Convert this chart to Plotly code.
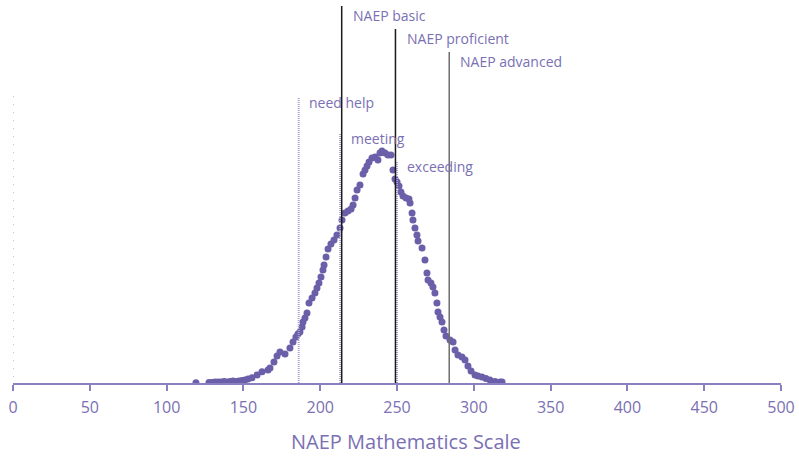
import plotly.graph_objects as go

# NAEP mathematics scale scores (x) and relative frequency (y, arbitrary units)
scores = [119.1, 127.6, 129.6, 131.5, 133.5, 135.4, 137.4, 139.3, 141.3, 143.2, 145.2, 147.1,
          149.1, 151.0, 153.0, 155.6, 158.9, 162.1, 166.0, 167.3, 169.9, 171.9, 173.8, 177.1,
          180.3, 182.3, 184.2, 185.5, 186.8, 188.2, 188.8, 190.1, 191.4, 192.7, 194.7, 196.6,
          197.9, 199.2, 200.5, 201.8, 202.5, 203.8, 205.1, 207.0, 209.0, 210.9, 212.9, 214.2,
          216.1, 218.1, 220.1, 221.4, 222.7, 224.0, 225.9, 227.9, 229.2, 230.5, 231.8, 233.7,
          235.7, 237.6, 238.9, 240.2, 242.2, 244.1, 246.1, 247.4, 248.7, 250.0, 251.3, 252.6,
          253.9, 255.9, 257.8, 258.5, 259.8, 260.4, 261.7, 263.0, 263.7, 266.3, 268.2, 269.5,
          270.2, 272.1, 273.4, 274.7, 276.0, 276.7, 278.0, 279.3, 280.6, 281.9, 284.5, 286.5,
          287.8, 289.7, 292.3, 294.3, 296.2, 298.2, 300.8, 302.7, 305.3, 307.9, 310.5, 313.8,
          317.1, 318.4]
freq = [0.3, 0.5, 0.5, 1, 1, 1, 1.5, 1, 1.5, 2, 1.5, 2,
        2.5, 3, 4, 5.3, 8, 11.3, 13, 15, 21, 27, 31, 29,
        35, 41, 46, 49, 51, 56, 61, 65, 70, 80, 85, 90,
        95, 100, 106, 113, 118, 126, 134, 139, 143, 148, 155, 163,
        170, 172, 174, 178, 185, 193, 198, 209, 213, 217, 221, 225,
        226, 223, 230, 232, 230, 228, 228, 213, 204, 201, 197, 191,
        187, 185, 184, 180, 170, 163, 155, 148, 142, 135, 123, 110,
        103, 100, 96, 90, 80, 71, 66, 61, 53, 47, 43, 41,
        33, 28, 26, 23, 17, 12, 8, 7, 6, 4.5, 3, 1.5,
        1, 1]

# Cut scores
naep_labels = ["NAEP basic", "NAEP proficient", "NAEP advanced"]
naep_cuts = [214, 249, 284]
naep_tops = [377, 354, 331]
naep_colors = ["#1a1a1a", "#1a1a1a", "#6e6e6e"]

state_labels = ["need help", "meeting", "exceeding"]
state_cuts = [186, 213, 250]
state_tops = [286, 250, 222]

x_ticks = [0, 50, 100, 150, 200, 250, 300, 350, 400, 450, 500]
x_title = "NAEP Mathematics Scale"

PURPLE = "#6a5fa8"
TEXT = "#7a70b3"
FONT = "Open Sans"

fig = go.Figure()
fig.add_trace(go.Scatter(x=scores, y=freq, mode="markers",
                         marker=dict(size=7, color=PURPLE), hoverinfo="x+y",
                         showlegend=False))

shapes = []
annotations = []
# dotted y axis line
shapes.append(dict(type="line", xref="x", yref="y", x0=0, x1=0, y0=6, y1=288,
                   line=dict(color="#8c84b8", width=1, dash="1px,7px")))
for lab, c, t in zip(state_labels, state_cuts, state_tops):
    shapes.append(dict(type="line", xref="x", yref="y", x0=c, x1=c, y0=0, y1=t,
                       line=dict(color="#aaa3d2", width=2, dash="1px,1px")))
    annotations.append(dict(x=c + 5.5, y=t - 5, xref="x", yref="y", text=lab,
                            showarrow=False, xanchor="left", yanchor="middle",
                            font=dict(family=FONT, size=14, color=TEXT)))
for lab, c, t, col in zip(naep_labels, naep_cuts, naep_tops, naep_colors):
    shapes.append(dict(type="line", xref="x", yref="y", x0=c, x1=c, y0=0, y1=t,
                       line=dict(color=col, width=1.5)))
    annotations.append(dict(x=c + 6, y=t - 9, xref="x", yref="y", text=lab,
                            showarrow=False, xanchor="left", yanchor="middle",
                            font=dict(family=FONT, size=14, color=TEXT)))
# axis title (slightly right of plot centre, as in the reference)
annotations.append(dict(x=0.512, y=-0.156, xref="paper", yref="paper",
                        text=x_title, showarrow=False, xanchor="center", yanchor="middle",
                        font=dict(family=FONT, size=20, color=TEXT)))

fig.update_layout(
    width=799, height=458,
    margin=dict(l=13, r=18, t=5, b=75, autoexpand=False),
    paper_bgcolor="white", plot_bgcolor="white",
    shapes=shapes, annotations=annotations,
    font=dict(family=FONT, color=TEXT),
    xaxis=dict(range=[0, 500], tickvals=x_ticks, ticktext=[str(v) for v in x_ticks],
               showgrid=False, zeroline=False, showline=True, linecolor="#8a80c0",
               linewidth=2, ticks="outside", ticklen=6, tickwidth=1.5, tickcolor="#8a80c0",
               ticklabelstandoff=3, automargin=False,
               tickfont=dict(family=FONT, size=16, color=TEXT)),
    yaxis=dict(range=[0, 378], showgrid=False, zeroline=False, showline=False,
               showticklabels=False, ticks="", automargin=False),
)

fig.write_html("out.html", config={"displayModeBar": False},
               post_script="document.body.style.margin='0';")
